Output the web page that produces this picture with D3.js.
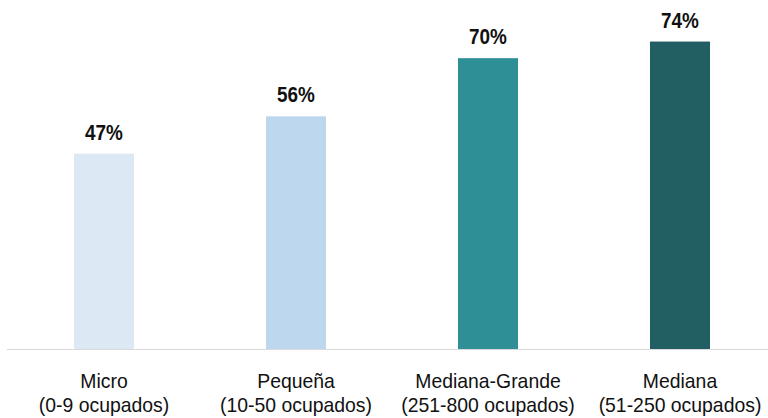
<!DOCTYPE html>
<html><head><meta charset="utf-8">
<script src="https://cdn.jsdelivr.net/npm/d3@7"></script>
<style>body{margin:0;background:#fff}svg{display:block}</style>
</head><body>
<svg id="c" width="768" height="418"></svg>
<script>
const categories = ["Micro", "Pequeña", "Mediana-Grande", "Mediana"];
const subLabels = ["(0-9 ocupados)", "(10-50 ocupados)", "(251-800 ocupados)", "(51-250 ocupados)"];
const values = [47, 56, 70, 74];
const colors = ["#dde8f5", "#bdd7ee", "#2e8f96", "#215f63"];

const svg = d3.select("#c");
const x = d3.scaleBand().domain(categories).range([8, 776]).paddingInner(0.6875).paddingOuter(0.34375);
const y = d3.scaleLinear().domain([0, 84]).range([349, 0]);

svg.selectAll("rect.bar").data(values).join("rect")
  .attr("class","bar")
  .attr("x",(d,i)=>x(categories[i]))
  .attr("width",x.bandwidth())
  .attr("y",d=>y(d))
  .attr("height",d=>y(0)-y(d))
  .attr("fill",(d,i)=>colors[i]);

svg.append("line").attr("x1",7).attr("x2",768).attr("y1",y(0)+0.5).attr("y2",y(0)+0.5)
  .attr("stroke","#d9d9d9").attr("stroke-width",1.2);

svg.selectAll("text.val").data(values).join("text")
  .attr("class","val")
  .attr("transform",(d,i)=>`translate(${x(categories[i])+x.bandwidth()/2},${y(d)-14}) scale(0.86,1)`)
  .attr("text-anchor","middle")
  .attr("font-family","'Liberation Sans', Arial, sans-serif")
  .attr("font-weight","bold").attr("font-size",22)
  .attr("fill","#111")
  .text(d=>d+"%");

const lab = svg.selectAll("text.cat").data(categories).join("text")
  .attr("class","cat")
  .attr("text-anchor","middle")
  .attr("font-family","'Liberation Sans', Arial, sans-serif")
  .attr("font-size",20).attr("fill","#111")
  .attr("transform",(d)=>`translate(${x(d)+x.bandwidth()/2},0) scale(0.97,1)`);
lab.append("tspan").attr("x",0).attr("y",388).text(d=>d);
lab.append("tspan").attr("x",0).attr("y",412).text((d,i)=>subLabels[i]);
</script>
</body></html>
